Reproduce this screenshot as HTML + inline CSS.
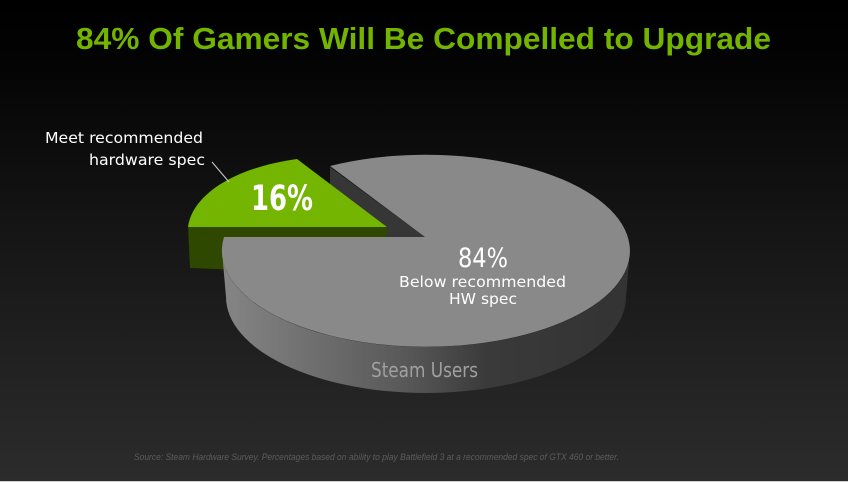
<!DOCTYPE html>
<html><head><meta charset="utf-8"><style>
html,body{margin:0;padding:0;background:#000;}
svg{display:block;}
</style></head><body>
<svg width="848" height="482" viewBox="0 0 848 482" xmlns="http://www.w3.org/2000/svg">
<defs>
<linearGradient id="bg" x1="0" y1="0" x2="0" y2="1">
<stop offset="0" stop-color="#000"/>
<stop offset="0.12" stop-color="#030303"/>
<stop offset="0.45" stop-color="#141414"/>
<stop offset="1" stop-color="#2c2c2c"/>
</linearGradient>
<linearGradient id="side" x1="222" y1="0" x2="630" y2="0" gradientUnits="userSpaceOnUse">
<stop offset="0" stop-color="#858585"/>
<stop offset="0.2" stop-color="#717171"/>
<stop offset="0.45" stop-color="#585858"/>
<stop offset="0.65" stop-color="#3a3a3a"/>
<stop offset="1" stop-color="#333"/>
</linearGradient>
</defs>
<rect width="848" height="482" fill="url(#bg)"/>
<rect x="0" y="481" width="848" height="1" fill="#cfcfcf"/>

<text x="76" y="49" font-family="Liberation Sans, Arial, sans-serif" font-weight="bold" font-size="31" fill="#72b400" textLength="695" lengthAdjust="spacingAndGlyphs">84% Of Gamers Will Be Compelled to Upgrade</text>

<!-- dark cut face of gray slice -->
<path d="M330 167 L425 237 L330 237 Z" fill="#363636"/>
<!-- green slice dark sides -->
<path d="M188 227 L387 227 L387 237 L240 237 L240 270 L190 268 Z" fill="#2e4800"/>
<!-- green top -->
<path d="M188 227 C192 196 232 168 297 159 L387 227 Z" fill="#73b500"/>

<!-- gray side -->
<path d="M222 251 A204 96 0 0 0 630 251 L626 297 A200 96 0 0 1 226 297 Z" fill="url(#side)"/>
<!-- gray top -->
<path d="M425 237 L224 237 A204 96 0 1 0 330 166 Z" fill="#898989"/>

<!-- leader line -->
<line x1="212" y1="162" x2="229" y2="182" stroke="#cfcfcf" stroke-width="1"/>

<g font-family="DejaVu Sans, Liberation Sans, sans-serif" fill="#fff">
<text x="45" y="143" font-size="15.5" textLength="158" lengthAdjust="spacingAndGlyphs">Meet recommended</text>
<text x="89" y="165" font-size="15.5" textLength="116" lengthAdjust="spacingAndGlyphs">hardware spec</text>
<text x="251" y="210" font-size="35" font-weight="bold" textLength="62" lengthAdjust="spacingAndGlyphs">16%</text>
<text x="458" y="267" font-size="27" textLength="50" lengthAdjust="spacingAndGlyphs">84%</text>
<text x="399" y="287" font-size="15.5" textLength="167" lengthAdjust="spacingAndGlyphs">Below recommended</text>
<text x="449" y="304" font-size="15.5" textLength="68" lengthAdjust="spacingAndGlyphs">HW spec</text>
<text x="371" y="377" font-size="20" fill="#a0a0a0" textLength="107" lengthAdjust="spacingAndGlyphs">Steam Users</text>
</g>

<text x="134" y="460" font-family="Liberation Sans, Arial, sans-serif" font-style="italic" font-size="9" fill="#5c5c5c" textLength="485" lengthAdjust="spacingAndGlyphs">Source: Steam Hardware Survey.  Percentages based on ability to play Battlefield 3 at a recommended spec of GTX 460 or better.</text>
</svg>
</body></html>
